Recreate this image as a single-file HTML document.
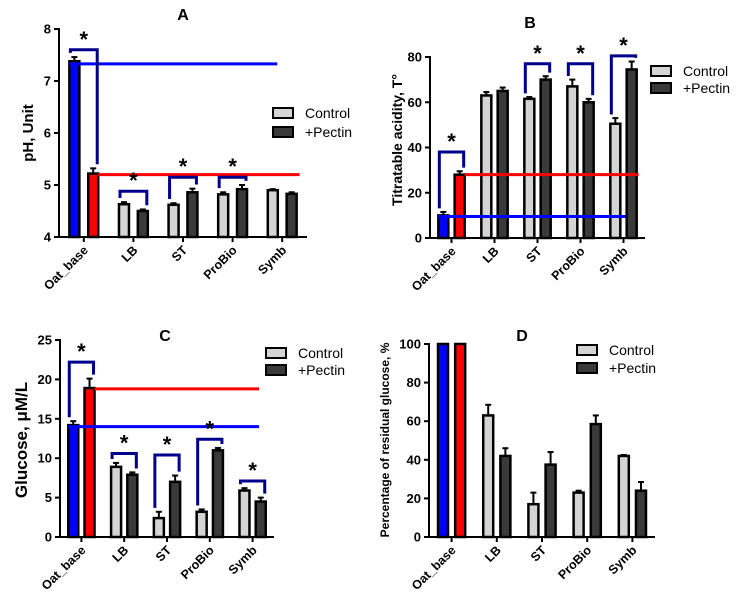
<!DOCTYPE html>
<html><head><meta charset="utf-8"><style>
html,body{margin:0;padding:0;background:#fff;}
svg{display:block;font-family:"Liberation Sans",Arial,sans-serif;}
</style></head><body>
<svg id="fig" width="738" height="599" viewBox="0 0 738 599"></svg>
<script>
const categories = ["Oat_base","LB","ST","ProBio","Symb"];
// Panel A: pH
const aControl = [7.38, 4.63, 4.62, 4.82, 4.9];
const aPectin = [5.22, 4.5, 4.86, 4.92, 4.83];
const aControlErr = [0.08, 0.04, 0.03, 0.04, 0.02];
const aPectinErr = [0.1, 0.03, 0.07, 0.08, 0.03];
const aTicks = [4, 5, 6, 7, 8];
const aBrackets = [7.6, 4.88, 5.15, 5.15, null];
const aBlueLine = 7.33, aRedLine = 5.2;
// Panel B: titratable acidity
const bControl = [10, 63, 61.5, 67, 50.5];
const bPectin = [28, 65, 70, 60, 74.5];
const bControlErr = [1.5, 1.5, 0.8, 3, 2.5];
const bPectinErr = [1.5, 1.5, 1.5, 1.5, 3.5];
const bTicks = [0, 20, 40, 60, 80];
const bBrackets = [38, null, 77, 77, 80.5];
const bBlueLine = 9.5, bRedLine = 28;
// Panel C: glucose
const cControl = [14.2, 8.9, 2.4, 3.2, 5.9];
const cPectin = [18.9, 7.9, 7.0, 11.0, 4.5];
const cControlErr = [0.5, 0.5, 0.8, 0.3, 0.3];
const cPectinErr = [1.2, 0.3, 0.8, 0.3, 0.5];
const cTicks = [0, 5, 10, 15, 20, 25];
const cBrackets = [22.2, 10.6, 10.4, 12.4, 7.1];
const cBlueLine = 14, cRedLine = 18.8;
// Panel D: residual glucose %
const dControl = [100, 63, 17, 23, 42];
const dPectin = [100, 42, 37.5, 58.5, 24];
const dControlErr = [0, 5.5, 6, 1, 0.5];
const dPectinErr = [0, 4, 6.5, 4.5, 4.5];
const dTicks = [0, 20, 40, 60, 80, 100];

const NS = "http://www.w3.org/2000/svg";
const svg = document.getElementById("fig");
function mk(tag, attrs, parent, text) {
  const e = document.createElementNS(NS, tag);
  for (const k in attrs) e.setAttribute(k, attrs[k]);
  if (text !== undefined) e.textContent = text;
  (parent || svg).appendChild(e);
  return e;
}

function panel(p) {
  const g = mk("g", {});
  
  
  const ys = v => p.y1 - (v - p.min) / (p.max - p.min) * (p.y1 - p.y0);
  const gw = (p.x1 - p.x0) / 5;
  const xc = i => p.x0 + (i + 0.5) * gw;
  const off = gw * 0.19, bw = 10;
  const t = mk("text", {x: p.tx, y: p.ty, "font-size": 16, "font-weight": "bold", "text-anchor": "middle"}, g, p.id);
  
  
  const yt = mk("text", {x: 0, y: 0, "font-size": p.ytSize, "font-weight": "bold", "text-anchor": "middle",
    transform: `translate(${p.ytx},${p.yty}) rotate(-90)`}, g, p.ytitle);
  
  
  p.ticks.forEach(v => {
    mk("line", {x1: p.x0 - 5, x2: p.x0, y1: ys(v), y2: ys(v), stroke: "#000", "stroke-width": 2}, g);
    const tl = mk("text", {x: p.x0 - 8, y: ys(v) + 4.5, "font-size": 13, "font-weight": "bold", "text-anchor": "end"}, g, v);
    
    
  });
  categories.forEach((c, i) => {
    const isBase = i === 0;
    [[p.ctrl, p.ctrlErr, -1, isBase ? "#0000ff" : "#d4d4d4"], [p.pec, p.pecErr, 1, isBase ? "#ff0000" : "#3a3a3a"]].forEach(([vals, errs, s, fill], k) => {
      const v = vals[i], e = errs[i];
      const cx = xc(i) + s * off;
      if (e > 0) {
        mk("line", {x1: cx, x2: cx, y1: ys(v), y2: ys(v + e), stroke: "#000", "stroke-width": 2}, g);
        mk("line", {x1: cx - 3, x2: cx + 3, y1: ys(v + e), y2: ys(v + e), stroke: "#000", "stroke-width": 2}, g);
      }
      const r = mk("rect", {x: cx - bw / 2, y: ys(v), width: bw, height: p.y1 - ys(v), fill: fill, stroke: "#000", "stroke-width": 2.5}, g);
      
      
    });
    mk("line", {x1: xc(i), x2: xc(i), y1: p.y1, y2: p.y1 + 5, stroke: "#000", "stroke-width": 2}, g);
    const cl = mk("text", {x: 0, y: 0, "font-size": 12.5, "font-weight": "bold", "text-anchor": "end",
      transform: `translate(${xc(i) + 5},${p.y1 + 14}) rotate(-45)`}, g, c);
    
    
  });
  mk("line", {x1: p.x0, x2: p.x0, y1: p.y0 - 1, y2: p.y1 + 1, stroke: "#000", "stroke-width": 2}, g);
  mk("line", {x1: p.x0 - 1, x2: p.x1, y1: p.y1, y2: p.y1, stroke: "#000", "stroke-width": 2}, g);
  if (p.blue !== undefined) {
    const bl = mk("line", {x1: xc(0) - off - bw / 2, x2: p.x0 + p.blueEnd * (p.x1 - p.x0), y1: ys(p.blue), y2: ys(p.blue), stroke: "#0000ff", "stroke-width": 3}, g);
    
    
    const rl = mk("line", {x1: xc(0) + off + bw / 2, x2: p.x0 + p.redEnd * (p.x1 - p.x0), y1: ys(p.red), y2: ys(p.red), stroke: "#ff0000", "stroke-width": 3}, g);
    
    
  }
  if (p.br) p.br.forEach((top, i) => {
    if (top === null) return;
    const gap = (p.max - p.min) * 0.02;
    const lx = xc(i) - off - 4, rx = xc(i) + off + 4;
    const lb = p.ctrl[i] + p.ctrlErr[i] + gap, rb = p.pec[i] + p.pecErr[i] + gap;
    const b = mk("polyline", {points: `${lx},${ys(lb)} ${lx},${ys(top)} ${rx},${ys(top)} ${rx},${ys(rb)}`, fill: "none", stroke: "#00008b", "stroke-width": 3}, g);
    
    
    const st = mk("text", {x: xc(i), y: ys(top) - 3, "font-size": 22, "font-weight": "bold", "text-anchor": "middle"}, g, "*");
    
    
  });
  const lg = mk("g", {}, g);
  
  
  [["Control", "#d4d4d4"], ["+Pectin", "#3a3a3a"]].forEach(([lab, f], k) => {
    const ly = p.ly + k * p.lgap;
    mk("rect", {x: p.lx, y: ly - 5, width: 20, height: 10, fill: f, stroke: "#000", "stroke-width": 2}, lg);
    const lt = mk("text", {x: p.lx + 32, y: ly + 5, "font-size": 14}, lg, lab);
    
    
  });
}

panel({id: "A", x0: 59, x1: 307, y0: 29, y1: 237, min: 4, max: 8, ticks: aTicks,
  ctrl: aControl, pec: aPectin, ctrlErr: aControlErr, pecErr: aPectinErr, br: aBrackets,
  blue: aBlueLine, red: aRedLine, blueEnd: 0.88, redEnd: 0.97,
  tx: 183, ty: 20, ytitle: "pH, Unit", ytSize: 15, ytx: 33, yty: 133, lx: 273, ly: 113, lgap: 19});
panel({id: "B", x0: 430, x1: 645, y0: 57, y1: 238, min: 0, max: 80, ticks: bTicks,
  ctrl: bControl, pec: bPectin, ctrlErr: bControlErr, pecErr: bPectinErr, br: bBrackets,
  blue: bBlueLine, red: bRedLine, blueEnd: 0.91, redEnd: 0.97,
  tx: 530, ty: 28, ytitle: "Titratable acidity, T\u00B0", ytSize: 14, ytx: 402, yty: 140, lx: 651, ly: 71, lgap: 17});
panel({id: "C", x0: 60, x1: 274, y0: 340, y1: 537, min: 0, max: 25, ticks: cTicks,
  ctrl: cControl, pec: cPectin, ctrlErr: cControlErr, pecErr: cPectinErr, br: cBrackets,
  blue: cBlueLine, red: cRedLine, blueEnd: 0.93, redEnd: 0.93,
  tx: 165, ty: 341, ytitle: "Glucose, \u03BCM/L", ytSize: 17, ytx: 27, yty: 440, lx: 266, ly: 353, lgap: 17});
panel({id: "D", x0: 429, x1: 655, y0: 344, y1: 537, min: 0, max: 100, ticks: dTicks,
  ctrl: dControl, pec: dPectin, ctrlErr: dControlErr, pecErr: dPectinErr, br: null,
  tx: 522, ty: 341, ytitle: "Percentage of residual glucose, %", ytSize: 12, ytx: 389, yty: 440, lx: 577, ly: 350, lgap: 18});
</script>
</body></html>
